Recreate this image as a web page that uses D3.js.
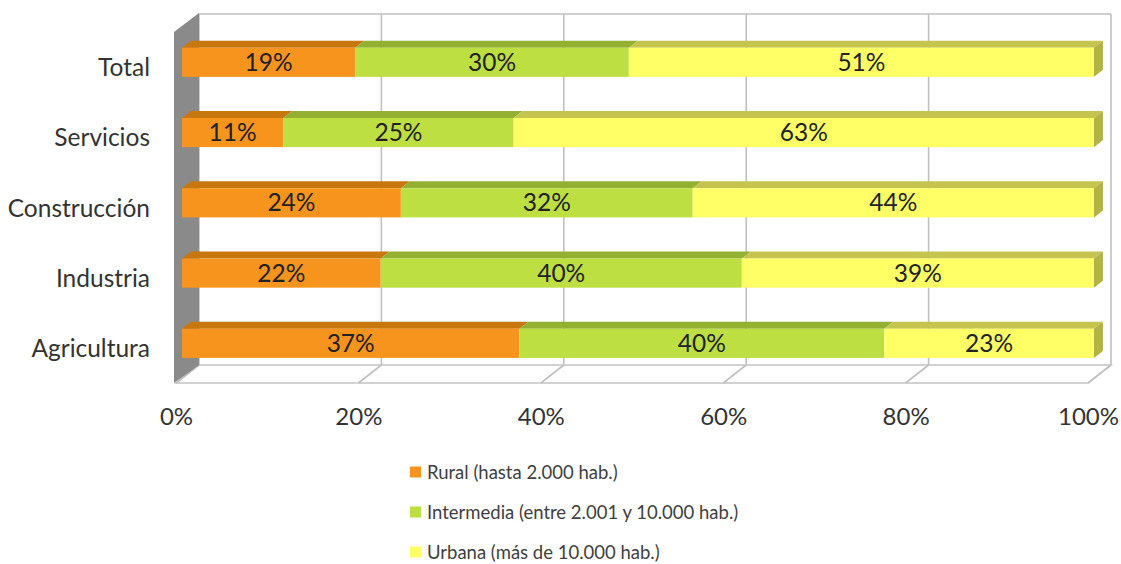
<!DOCTYPE html>
<html>
<head>
<meta charset="utf-8">
<script src="https://cdn.jsdelivr.net/npm/d3@7"></script>
<style>
html,body{margin:0;padding:0;background:#fff;}
svg{display:block;font-family:Lato,"Open Sans",sans-serif;}
</style>
</head>
<body>
<svg id="chart" width="1121" height="564"></svg>
<script>
const categories = ["Total", "Servicios", "Construcción", "Industria", "Agricultura"];
const seriesNames = ["Rural (hasta 2.000 hab.)", "Intermedia (entre 2.001 y 10.000 hab.)", "Urbana (más de 10.000 hab.)"];
const rural = [19, 11, 24, 22, 37];
const intermedia = [30, 25, 32, 40, 40];
const urbana = [51, 63, 44, 39, 23];
const tickValues = [0, 0.2, 0.4, 0.6, 0.8, 1.0];

const frontColors = ["#F7941D", "#BEDF42", "#FFFF66"];
const topColors = ["#C8760E", "#93B032", "#C4C44E"];
const sideColor = "#B3B345";

const svg = d3.select("#chart");
const x = d3.scaleLinear().domain([0, 1]).range([176, 1088]);
const y = d3.scaleBand().domain(categories).range([32, 383]).paddingInner(0.585).paddingOuter(0.29);
const DX = 23, DY = 18;
const px = (v, d) => x(v) + d * DX;
const py = (yy, d) => yy - d * DY;
const d1 = 0.26, d2 = 0.65;
const yTop = y.range()[0], yBot = y.range()[1];

// back wall
svg.append("rect").attr("x", px(0,1)).attr("y", py(yTop,1)).attr("width", px(1,1)-px(0,1)).attr("height", yBot-yTop).attr("fill", "#fff");
// floor
const floorPts = [[px(0,0), yBot], [px(1,0), yBot], [px(1,1), py(yBot,1)], [px(0,1), py(yBot,1)]];
svg.append("polygon").attr("points", floorPts.map(p => p.join(",")).join(" ")).attr("fill", "#fff").attr("stroke", "#c4c4c4").attr("stroke-width", 1.5);
// back wall gridlines and floor gridlines
const grid = svg.append("g").attr("stroke", "#c0c0c0").attr("stroke-width", 1.6).attr("fill", "none");
tickValues.forEach(t => {
  grid.append("line").attr("x1", px(t,1)).attr("x2", px(t,1)).attr("y1", py(yTop,1)).attr("y2", py(yBot,1));
  grid.append("line").attr("x1", px(t,1)).attr("x2", px(t,0)).attr("y1", py(yBot,1)).attr("y2", yBot);
});
grid.append("line").attr("x1", px(0,1)).attr("x2", px(1,1)).attr("y1", py(yTop,1)).attr("y2", py(yTop,1));

// left side wall
const wallPts = [[px(0,0)-2, yTop], [px(0,1), py(yTop,1)-1], [px(0,1), py(yBot,1)], [px(0,0)-2, yBot]];
svg.append("polygon").attr("points", wallPts.map(p => p.join(",")).join(" ")).attr("fill", "#8a8a8a");

// stacked data (normalized to 100%)
const rows = categories.map((c, i) => {
  const vals = [rural[i], intermedia[i], urbana[i]];
  const sum = d3.sum(vals);
  let acc = 0;
  return vals.map((v, k) => { const s = {cat: c, k, v, x0: acc / sum, x1: (acc + v) / sum}; acc += v; return s; });
});

const bars = svg.append("g");
rows.forEach(segs => {
  segs.forEach(s => {
    const yt = y(s.cat);
    const top = [[px(s.x0,d1), py(yt,d1)], [px(s.x1,d1), py(yt,d1)], [px(s.x1,d2), py(yt,d2)], [px(s.x0,d2), py(yt,d2)]];
    bars.append("polygon").attr("points", top.map(p => p.join(",")).join(" ")).attr("fill", topColors[s.k]);
  });
  segs.forEach(s => {
    const yt = y(s.cat), yb = y(s.cat) + y.bandwidth();
    bars.append("rect").attr("x", px(s.x0,d1)).attr("y", py(yt,d1)).attr("width", px(s.x1,d1)-px(s.x0,d1)).attr("height", yb-yt).attr("fill", frontColors[s.k]);
  });
  const last = segs[segs.length-1];
  const yt = y(last.cat), yb = y(last.cat) + y.bandwidth();
  const side = [[px(1,d1), py(yt,d1)], [px(1,d2), py(yt,d2)], [px(1,d2), py(yb,d2)], [px(1,d1), py(yb,d1)]];
  bars.append("polygon").attr("points", side.map(p => p.join(",")).join(" ")).attr("fill", sideColor);
  segs.forEach(s => {
    const yc = py(y(s.cat) + y.bandwidth()/2, d1);
    bars.append("text").attr("x", (px(s.x0,d1)+px(s.x1,d1))/2).attr("y", yc + 8.5)
      .attr("text-anchor", "middle").attr("font-size", 24.5).attr("fill", "#222")
      .text(s.v + "%");
  });
});

// category labels
svg.append("g").selectAll("text").data(categories).join("text")
  .attr("x", 150).attr("y", d => y(d) + y.bandwidth()/2 + 9)
  .attr("text-anchor", "end").attr("font-size", 24.5).attr("fill", "#333")
  .text(d => d);

// x axis
const xAxis = d3.axisBottom(x).tickValues(tickValues).tickFormat(d3.format(".0%")).tickSize(0).tickPadding(25);
const gx = svg.append("g").attr("transform", `translate(0,${yBot})`).call(xAxis);
gx.select(".domain").remove();
gx.selectAll("text").attr("font-size", 24).attr("fill", "#333").attr("font-family", "Lato,'Open Sans',sans-serif");

// legend
const leg = svg.append("g");
seriesNames.forEach((n, k) => {
  const cy = 472 + k * 40;
  leg.append("rect").attr("x", 410).attr("y", cy - 5.5).attr("width", 11).attr("height", 11).attr("fill", frontColors[k]);
  leg.append("text").attr("x", 427).attr("y", cy + 6.5).attr("font-size", 18.5).attr("fill", "#404040").text(n);
});
</script>
</body>
</html>
